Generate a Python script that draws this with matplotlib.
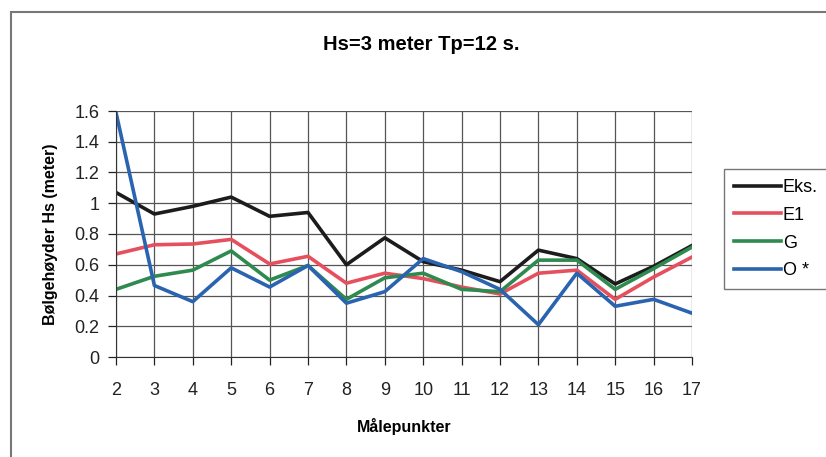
import matplotlib.pyplot as plt
from matplotlib.patches import Rectangle
from matplotlib.ticker import FuncFormatter

plt.rcParams['font.family'] = ['Liberation Sans', 'DejaVu Sans']

punkter = list(range(2, 18))
eks = [1.07, 0.93, 0.98, 1.04, 0.915, 0.94, 0.60, 0.775, 0.62, 0.565, 0.49, 0.695, 0.64, 0.475, 0.59, 0.725]
e1 = [0.67, 0.73, 0.735, 0.765, 0.605, 0.655, 0.48, 0.545, 0.51, 0.455, 0.41, 0.545, 0.565, 0.375, 0.52, 0.65]
g = [0.44, 0.525, 0.565, 0.69, 0.50, 0.595, 0.375, 0.515, 0.545, 0.44, 0.425, 0.63, 0.63, 0.44, 0.575, 0.715]
o = [1.59, 0.465, 0.36, 0.58, 0.455, 0.595, 0.35, 0.425, 0.64, 0.555, 0.44, 0.21, 0.545, 0.33, 0.375, 0.285]

serier = [('Eks.', eks, '#1c1c1c'), ('E1', e1, '#e6505e'),
          ('G', g, '#2e8a4e'), ('O *', o, '#2a64b0')]

fig = plt.figure(figsize=(8.26, 4.57), dpi=100)
ax = fig.add_axes([116/826, 1 - 357/457, 576/826, 246/457])

for navn, verdier, farge in serier:
    ax.plot(punkter, verdier, color=farge, lw=2.6, label=navn)

ax.set_xlim(2, 17)
ax.set_ylim(0, 1.6)
ax.set_xticks(punkter)
ax.set_yticks([i * 0.2 for i in range(9)])
ax.yaxis.set_major_formatter(FuncFormatter(lambda v, p: '%g' % round(v, 1)))
ax.grid(True, color='#555555', lw=0.9)
ax.set_axisbelow(True)
for s in ['top', 'right']:
    ax.spines[s].set_visible(False)
ax.spines['left'].set_color('#333333')
ax.spines['bottom'].set_color('#333333')
ax.tick_params(axis='both', labelsize=13, colors='#222222', length=6, width=0.9)
ax.tick_params(axis='x', pad=12)
ax.tick_params(axis='y', pad=6)

ax.set_title('Hs=3 meter Tp=12 s.', fontsize=14.5, fontweight='bold', pad=44, x=0.53)
ax.set_xlabel('Målepunkter', fontsize=11.5, fontweight='bold', labelpad=14)
ax.set_ylabel('Bølgehøyder Hs (meter)', fontsize=11.5, fontweight='bold', labelpad=12)

leg = fig.legend(loc='upper left', bbox_to_anchor=(724/826, 1 - 169/457),
                 fontsize=13, handlelength=2.6, handletextpad=0.1,
                 labelspacing=0.6, borderpad=0.55, borderaxespad=0,
                 frameon=True, fancybox=False)
leg.get_frame().set_edgecolor('#555555')
leg.get_frame().set_linewidth(1.0)

fig.add_artist(Rectangle((11/826, -0.1), 1.2, 1.1 - 12/457, transform=fig.transFigure,
                         fill=False, edgecolor='#777777', lw=1.5))

fig.savefig('out.png', dpi=100)
